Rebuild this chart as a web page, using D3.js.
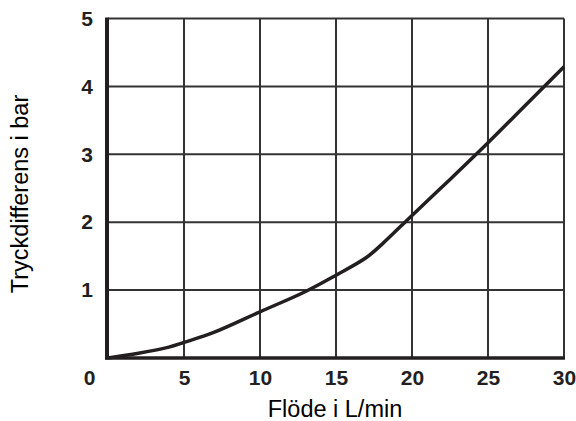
<!DOCTYPE html>
<html><head><meta charset="utf-8">
<script src="https://cdn.jsdelivr.net/npm/d3@7"></script>
<style>html,body{margin:0;padding:0;background:#fff}</style>
</head><body>
<svg id="c" width="576" height="421"></svg>
<script>
const flow = [0, 2, 4, 5, 7, 10, 13, 15, 17, 18, 20, 22.5, 25, 27.5, 30];
const pressure = [0, 0.07, 0.16, 0.23, 0.38, 0.68, 0.98, 1.22, 1.48, 1.67, 2.1, 2.63, 3.17, 3.73, 4.29];
const xTicks = [0, 5, 10, 15, 20, 25, 30];
const yTicks = [1, 2, 3, 4, 5];
const xTitle = "Flöde i L/min";
const yTitle = "Tryckdifferens i bar";

const svg = d3.select("#c");
const x = d3.scaleLinear().domain([0, 30]).range([108, 564]);
const y = d3.scaleLinear().domain([0, 5]).range([358, 18.5]);
const font = "'Liberation Sans', Arial, sans-serif";
const ink = "#231f20";

// grid
svg.append("g").selectAll("line").data(xTicks.filter(d => d > 0)).join("line")
  .attr("x1", d => x(d)).attr("x2", d => x(d)).attr("y1", y(5)).attr("y2", y(0))
  .attr("stroke", "#333").attr("stroke-width", 2);
svg.append("g").selectAll("line").data(yTicks).join("line")
  .attr("x1", x(0)).attr("x2", x(30)).attr("y1", d => y(d)).attr("y2", d => y(d))
  .attr("stroke", "#333").attr("stroke-width", 2);

// axes thick lines
svg.append("line").attr("x1", x(0) - 1).attr("x2", x(0) - 1).attr("y1", y(5) - 1).attr("y2", y(0) + 1.5)
  .attr("stroke", ink).attr("stroke-width", 4);
svg.append("line").attr("x1", x(0) - 3).attr("x2", x(30) + 1).attr("y1", y(0)).attr("y2", y(0))
  .attr("stroke", ink).attr("stroke-width", 3.5);

// x axis labels via d3 axis
const xAxis = svg.append("g").attr("transform", `translate(0,${y(0)})`)
  .call(d3.axisBottom(x).tickValues(xTicks).tickSize(0).tickPadding(12).tickFormat(d3.format("d")));
xAxis.select(".domain").remove();
xAxis.selectAll("text").attr("font-family", font).attr("font-weight", "bold").attr("font-size", 21)
  .attr("fill", ink).attr("dx", d => d === 0 ? -19 : 0);

const yAxis = svg.append("g").attr("transform", `translate(${x(0)},0)`)
  .call(d3.axisLeft(y).tickValues(yTicks).tickSize(0).tickPadding(15).tickFormat(d3.format("d")));
yAxis.select(".domain").remove();
yAxis.selectAll("text").attr("font-family", font).attr("font-weight", "bold").attr("font-size", 21).attr("fill", ink);

// curve
const pts = flow.map((f, i) => [f, pressure[i]]);
svg.append("path").datum(pts)
  .attr("d", d3.line().x(d => x(d[0])).y(d => y(d[1])).curve(d3.curveCatmullRom.alpha(0.5)))
  .attr("fill", "none").attr("stroke", ink).attr("stroke-width", 3.5);

// titles
svg.append("text").attr("x", 335).attr("y", 417).attr("text-anchor", "middle")
  .attr("font-family", font).attr("font-size", 23.5).attr("fill", "#000").text(xTitle);
svg.append("text").attr("transform", "translate(28,194) rotate(-90)").attr("text-anchor", "middle")
  .attr("font-family", font).attr("font-size", 23.5).attr("fill", "#000").text(yTitle);
</script>
</body></html>
